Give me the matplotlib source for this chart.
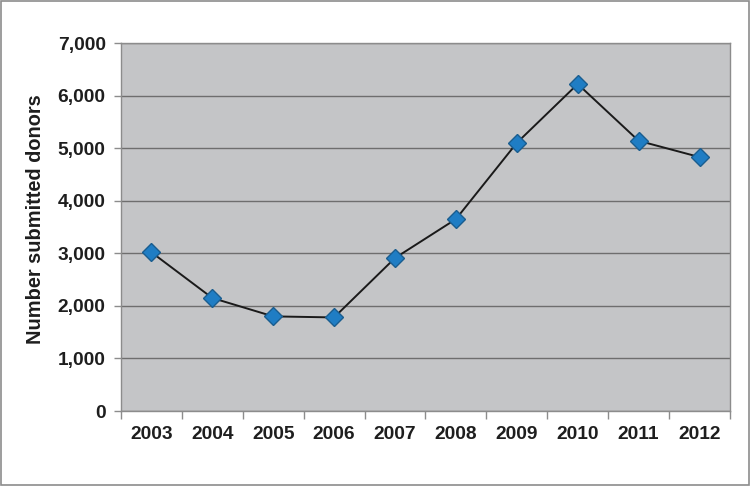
import matplotlib.pyplot as plt
from matplotlib.patches import Rectangle

# Data
years = ['2003', '2004', '2005', '2006', '2007', '2008', '2009', '2010', '2011', '2012']
donors = [3020, 2150, 1800, 1780, 2910, 3650, 5100, 6220, 5140, 4830]
y_ticks = [0, 1000, 2000, 3000, 4000, 5000, 6000, 7000]

plt.rcParams['font.family'] = ['Liberation Sans', 'DejaVu Sans']

fig = plt.figure(figsize=(7.51, 4.86), dpi=100)
fig.patches.append(Rectangle((0.001, 0.002), 0.997, 0.996, transform=fig.transFigure,
                             fill=False, edgecolor='#8c8c8c', linewidth=1.2))

ax = fig.add_axes([0.161, 0.1543, 0.811, 0.7572])
ax.set_facecolor('#c4c5c7')

x = list(range(len(years)))
ax.plot(x, donors, color='#1a1a1a', linewidth=1.4, zorder=3)
ax.plot(x, donors, linestyle='none', marker='D', markersize=9,
        markerfacecolor='#1f7dc4', markeredgecolor='#1a5d8f', markeredgewidth=1.0, zorder=4)

ax.set_ylim(0, 7000)
ax.set_xlim(-0.5, len(years) - 0.5)
ax.set_yticks(y_ticks)
ax.set_yticklabels([f'{v:,}' for v in y_ticks])
ax.set_xticks(x)
ax.set_xticklabels(years)
ax.set_xticks([i - 0.5 for i in range(len(years) + 1)], minor=True)

ax.grid(axis='y', color='#6e6e6e', linewidth=1.0)
ax.set_axisbelow(True)

for s in ax.spines.values():
    s.set_color('#8c8c8c')
    s.set_linewidth(1.0)

ax.tick_params(axis='x', which='major', length=0, pad=11)
ax.tick_params(axis='x', which='minor', length=6, color='#8c8c8c', width=1.0)
ax.tick_params(axis='y', length=5, color='#8c8c8c', width=1.0, pad=6)
for lbl in ax.get_xticklabels() + ax.get_yticklabels():
    lbl.set_fontsize(13.8)
    lbl.set_fontweight('bold')
    lbl.set_color('#1e1e1e')

ax.set_ylabel('Number submitted donors', fontsize=14.4, fontweight='bold', color='#1e1e1e')
ax.yaxis.set_label_coords(-0.125, 0.522)

fig.savefig('out.png', dpi=100)
